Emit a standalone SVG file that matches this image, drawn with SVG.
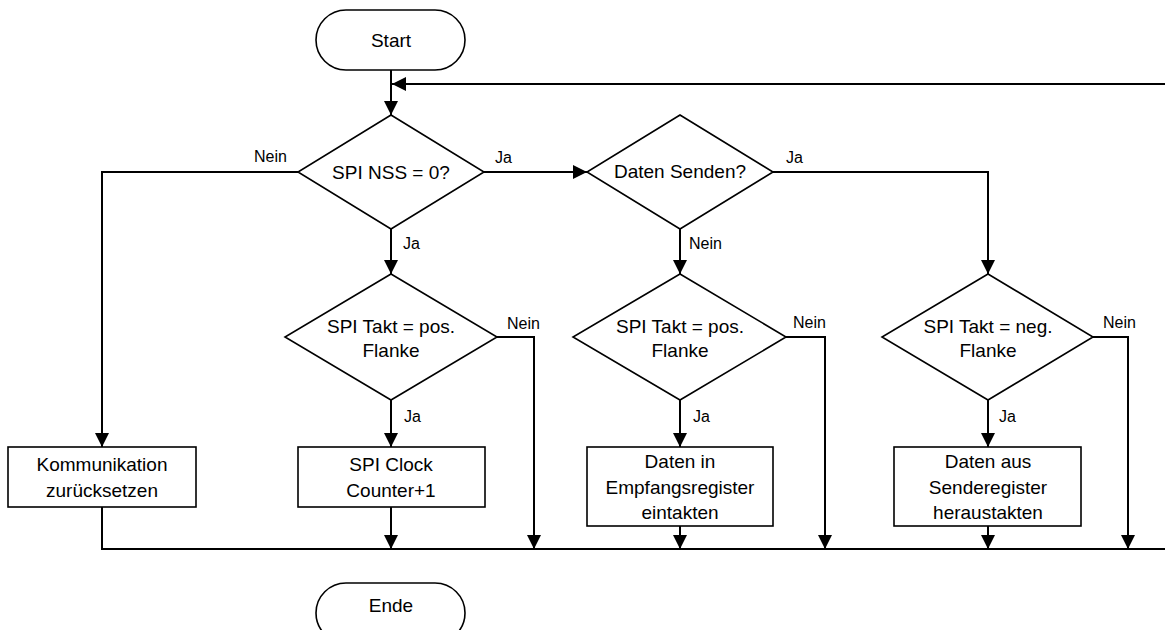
<svg xmlns="http://www.w3.org/2000/svg" width="1165" height="630" viewBox="0 0 1165 630">
  <style>
    .shape { fill: #ffffff; stroke: #000000; stroke-width: 1.6; }
    .txt { font-family: "Liberation Sans", Arial, sans-serif; font-size: 19px; fill: #000000; text-anchor: middle; dominant-baseline: central; }
    .lbl { font-family: "Liberation Sans", Arial, sans-serif; font-size: 16px; fill: #000000; dominant-baseline: central; }
    .wire { fill: none; stroke: #000000; stroke-width: 2; }
    .arr { marker-end: url(#head); }
  </style>
  <defs>
    <marker id="head" markerUnits="userSpaceOnUse" markerWidth="15" markerHeight="15" refX="14" refY="7" orient="auto">
      <path d="M0,0 L14,7 L0,14 Z" fill="#000000"/>
    </marker>
  </defs>

  <rect width="1165" height="630" fill="#ffffff"/>

  <!-- connectors -->
  <g id="connectors">
    <path class="wire arr" d="M391,70 V115"/>
    <path class="wire arr" d="M1165,84 H392"/>
    <path class="wire arr" d="M484,172 H587"/>
    <path class="wire arr" d="M298,172 H102 V447"/>
    <path class="wire arr" d="M391,229 V274"/>
    <path class="wire arr" d="M773,172 H988 V274"/>
    <path class="wire arr" d="M680,229 V274"/>

    <path class="wire arr" d="M391,400 V447"/>
    <path class="wire arr" d="M497,337 H534 V549"/>
    <path class="wire arr" d="M391,507 V549"/>

    <path class="wire arr" d="M680,400 V447"/>
    <path class="wire arr" d="M786,337 H825 V549"/>
    <path class="wire arr" d="M680,526 V549"/>

    <path class="wire arr" d="M988,400 V447"/>
    <path class="wire arr" d="M1093,337 H1128 V549"/>
    <path class="wire arr" d="M988,526 V549"/>

    <path class="wire" d="M102,507 V549 H1165"/>

    <text class="lbl" x="254" y="156">Nein</text>
    <text class="lbl" x="495" y="157">Ja</text>
    <text class="lbl" x="403" y="243">Ja</text>
    <text class="lbl" x="786" y="157">Ja</text>
    <text class="lbl" x="689" y="243">Nein</text>
    <text class="lbl" x="507" y="323">Nein</text>
    <text class="lbl" x="404" y="416">Ja</text>
    <text class="lbl" x="793" y="322">Nein</text>
    <text class="lbl" x="693" y="416">Ja</text>
    <text class="lbl" x="1103" y="322">Nein</text>
    <text class="lbl" x="999" y="416">Ja</text>
  </g>

  <!-- nodes -->
  <g id="start">
    <rect class="shape" x="316" y="10" width="149" height="60" rx="30" ry="30"/>
    <text class="txt" x="391" y="40">Start</text>
  </g>

  <g id="nss">
    <polygon class="shape" points="391,115 484,172 391,229 298,172"/>
    <text class="txt" x="391" y="172">SPI NSS = 0?</text>
  </g>

  <g id="senden">
    <polygon class="shape" points="680,115 773,172 680,229 587,172"/>
    <text class="txt" x="680" y="171">Daten Senden?</text>
  </g>

  <g id="takt-clock">
    <polygon class="shape" points="391,274 497,337 391,400 285,337"/>
    <text class="txt" x="391" y="326">SPI Takt = pos.</text>
    <text class="txt" x="391" y="350">Flanke</text>
  </g>

  <g id="takt-rx">
    <polygon class="shape" points="680,274 786,337 680,400 573,337"/>
    <text class="txt" x="680" y="326">SPI Takt = pos.</text>
    <text class="txt" x="680" y="350">Flanke</text>
  </g>

  <g id="takt-tx">
    <polygon class="shape" points="988,274 1093,337 988,400 882,337"/>
    <text class="txt" x="988" y="326">SPI Takt = neg.</text>
    <text class="txt" x="988" y="350">Flanke</text>
  </g>

  <g id="reset">
    <rect class="shape" x="8" y="447" width="188" height="60"/>
    <text class="txt" x="102" y="464">Kommunikation</text>
    <text class="txt" x="102" y="490">zurücksetzen</text>
  </g>

  <g id="counter">
    <rect class="shape" x="298" y="447" width="187" height="60"/>
    <text class="txt" x="391" y="464">SPI Clock</text>
    <text class="txt" x="391" y="490">Counter+1</text>
  </g>

  <g id="receive">
    <rect class="shape" x="587" y="447" width="186" height="79"/>
    <text class="txt" x="680" y="461">Daten in</text>
    <text class="txt" x="680" y="487">Empfangsregister</text>
    <text class="txt" x="680" y="512">eintakten</text>
  </g>

  <g id="transmit">
    <rect class="shape" x="894" y="447" width="187" height="79"/>
    <text class="txt" x="988" y="461">Daten aus</text>
    <text class="txt" x="988" y="487">Senderegister</text>
    <text class="txt" x="988" y="512">heraustakten</text>
  </g>

  <g id="end">
    <rect class="shape" x="316" y="583" width="149" height="60" rx="30" ry="30"/>
    <text class="txt" x="391" y="605">Ende</text>
  </g>
</svg>
